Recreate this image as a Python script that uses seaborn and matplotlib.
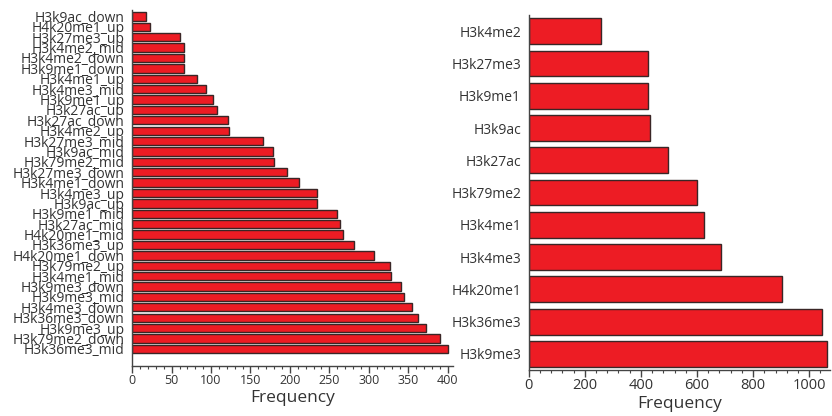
import matplotlib
matplotlib.use("Agg")
import matplotlib.pyplot as plt
from matplotlib.ticker import MultipleLocator
import seaborn as sns
import pandas as pd

# Peak counts per histone mark, split by expression group
group_labels = [
    "H3k9ac_down", "H4k20me1_up", "H3k27me3_up", "H3k4me2_mid", "H3k4me2_down",
    "H3k9me1_down", "H3k4me1_up", "H3k4me3_mid", "H3k9me1_up", "H3k27ac_up",
    "H3k27ac_down", "H3k4me2_up", "H3k27me3_mid", "H3k9ac_mid", "H3k79me2_mid",
    "H3k27me3_down", "H3k4me1_down", "H3k4me3_up", "H3k9ac_up", "H3k9me1_mid",
    "H3k27ac_mid", "H4k20me1_mid", "H3k36me3_up", "H4k20me1_down", "H3k79me2_up",
    "H3k4me1_mid", "H3k9me3_down", "H3k9me3_mid", "H3k4me3_down", "H3k36me3_down",
    "H3k9me3_up", "H3k79me2_down", "H3k36me3_mid",
]
group_freq = [
    18, 23, 61, 65, 66,
    66, 82, 93, 102, 107,
    121, 123, 166, 179, 180,
    196, 211, 234, 234, 260,
    264, 267, 281, 307, 327,
    328, 341, 345, 355, 362,
    373, 391, 401,
]

# Total counts per histone mark
mark_labels = [
    "H3k4me2", "H3k27me3", "H3k9me1", "H3k9ac", "H3k27ac", "H3k79me2",
    "H3k4me1", "H3k4me3", "H4k20me1", "H3k36me3", "H3k9me3",
]
mark_freq = [256, 424, 427, 432, 495, 601, 625, 685, 903, 1047, 1063]

sns.set_style("white")
plt.rcParams["font.family"] = ["Open Sans", "DejaVu Sans"]

BAR = "#ED1C24"
EDGE = "#3a2626"
TXT = "#333333"

fig = plt.figure(figsize=(8.32, 4.16), dpi=100)
ax1 = fig.add_axes([0.159, 0.121, 0.3855, 0.855])
ax2 = fig.add_axes([0.6355, 0.1106, 0.362, 0.853])

df1 = pd.DataFrame({"label": group_labels, "freq": group_freq})
df2 = pd.DataFrame({"label": mark_labels, "freq": mark_freq})

sns.barplot(data=df1, x="freq", y="label", orient="h", color=BAR,
            saturation=1, edgecolor=EDGE, linewidth=1.0, width=0.8, ax=ax1)
sns.barplot(data=df2, x="freq", y="label", orient="h", color=BAR,
            saturation=1, edgecolor=EDGE, linewidth=1.0, width=0.8, ax=ax2)

ax1.set_xlim(0, 407)
ax1.set_ylim(33.62, -0.62)
ax1.xaxis.set_major_locator(MultipleLocator(50))
ax1.xaxis.set_minor_locator(MultipleLocator(10))
ax2.set_xlim(0, 1074)
ax2.set_ylim(10.5, -0.5)
ax2.xaxis.set_major_locator(MultipleLocator(200))
ax2.xaxis.set_minor_locator(MultipleLocator(40))

for ax, xfs in ((ax1, 9), (ax2, 10.5)):
    sns.despine(ax=ax)
    for s in ("left", "bottom"):
        ax.spines[s].set_color("#444444")
        ax.spines[s].set_linewidth(1.0)
    ax.set_ylabel("")
    ax.set_xlabel("Frequency", fontsize=12.5, color=TXT, labelpad=2)
    ax.tick_params(axis="x", which="major", bottom=True, length=5, width=1,
                   color="#444444", labelsize=xfs, labelcolor=TXT, pad=1)
    ax.tick_params(axis="x", which="minor", bottom=True, length=2.5, width=0.8,
                   color="#444444")
    ax.tick_params(axis="y", left=False, labelsize=10, labelcolor=TXT, pad=2)

fig.savefig("out.png", dpi=100)
